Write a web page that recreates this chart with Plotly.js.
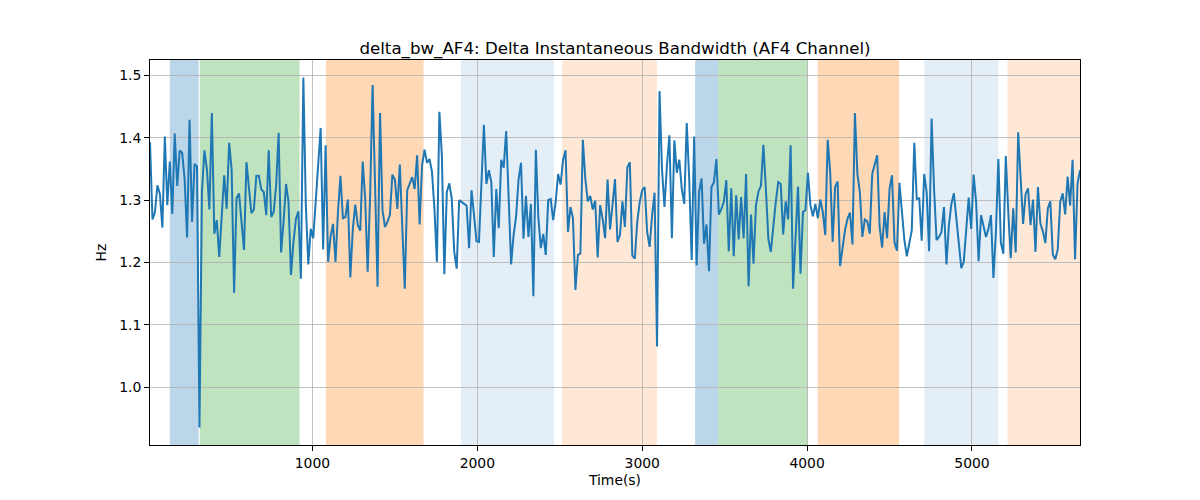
<!DOCTYPE html>
<html>
<head>
<meta charset="utf-8">
<script src="https://cdn.plot.ly/plotly-3.0.1.min.js"></script>
<style>html,body{margin:0;padding:0;background:#fff;}#chart{width:1200px;height:500px;}</style>
</head>
<body>
<div id="chart"></div>
<script>
// Time axis: first sample and step (seconds)
const timeStart = 15;
const timeStep = 15;

// delta bandwidth values (Hz)
const bwValues = [
1.393,1.269,1.281,1.324,1.310,1.256,1.402,1.292,1.362,1.278,
1.407,1.323,1.380,1.376,1.334,1.240,1.429,1.265,1.358,1.354,
0.935,1.313,1.380,1.350,1.285,1.440,1.246,1.268,1.209,1.270,
1.340,1.286,1.392,1.350,1.151,1.303,1.311,1.265,1.220,1.361,
1.321,1.279,1.285,1.339,1.339,1.317,1.313,1.276,1.380,1.273,
1.281,1.324,1.408,1.216,1.265,1.326,1.297,1.180,1.233,1.270,
1.282,1.174,1.497,
1.292,1.197,1.254,1.239,1.297,1.356,1.416,1.221,1.388,1.201,
1.241,1.262,1.201,1.281,1.339,1.271,1.273,1.301,1.176,1.254,
1.293,1.260,1.251,1.362,1.302,1.185,1.308,1.485,1.297,1.161,
1.440,1.284,1.257,1.265,1.277,1.341,1.333,1.286,1.357,1.249,
1.158,1.316,1.326,1.337,1.318,1.372,1.261,1.356,1.381,1.360,
1.366,1.346,1.286,1.201,1.442,1.372,1.181,1.313,1.327,1.302,
1.217,1.190,1.300,
1.297,1.294,1.291,1.223,1.316,1.276,1.234,1.233,1.318,1.421,
1.326,1.348,1.329,1.209,1.318,1.255,1.365,1.352,1.411,1.318,
1.197,1.244,1.273,1.333,1.360,1.238,1.307,1.241,1.294,1.146,
1.381,1.273,1.223,1.246,1.212,1.300,1.302,1.268,1.297,1.342,
1.325,1.365,1.380,1.249,1.289,1.271,1.156,1.212,1.214,1.397,
1.334,1.298,1.307,1.285,1.299,1.208,1.292,1.270,1.239,1.333,
1.253,1.293,1.334,
1.233,1.244,1.298,1.257,1.353,1.361,1.211,1.206,1.265,1.297,
1.316,1.321,1.249,1.225,1.276,1.312,1.065,1.475,1.350,1.289,
1.356,1.404,1.239,1.396,1.344,1.365,1.318,1.294,1.424,1.334,
1.204,1.402,1.195,1.313,1.335,1.230,1.261,1.186,1.321,1.329,
1.366,1.277,1.286,1.297,1.332,1.218,1.319,1.210,1.308,1.237,
1.305,1.239,1.342,1.162,1.277,1.198,1.292,1.314,1.323,1.389,
1.318,1.238,
1.217,1.260,1.297,1.329,1.326,1.245,1.298,1.269,1.388,1.158,
1.233,1.322,1.182,1.281,1.284,1.344,1.292,1.274,1.294,1.271,
1.301,1.281,1.244,1.397,1.345,1.233,1.321,1.330,1.194,1.228,
1.252,1.270,1.280,1.229,1.440,1.342,1.313,1.241,1.269,1.266,
1.246,1.342,1.356,1.372,1.257,1.224,1.281,1.239,1.318,1.340,
1.232,1.219,1.328,1.276,1.236,1.210,1.233,1.252,1.392,1.302,
1.303,1.235,1.342,
1.313,1.218,1.431,1.318,1.236,1.241,1.249,1.289,1.197,1.260,
1.294,1.311,1.268,1.228,1.191,1.201,1.249,1.304,1.254,1.341,
1.297,1.202,1.276,1.260,1.241,1.254,1.276,1.175,1.249,1.366,
1.232,1.214,1.371,1.281,1.207,1.287,1.216,1.409,1.324,1.262,
1.310,1.319,1.260,1.301,1.217,1.321,1.262,1.250,1.231,1.287,
1.298,1.213,1.205,1.221,1.297,1.311,1.277,1.338,1.291,1.365,
1.205,1.326,1.348
];

// Shaded segments: start, end, colour, opacity
const segStart = [135, 317, 1082, 1901, 2514, 3321, 3461, 4064, 4711, 5215];
const segEnd   = [310, 922, 1674, 2465, 3089, 3461, 4003, 4558, 5160, 5656];
const segColor = ['31,119,180','44,160,44','255,127,14','31,119,180','255,127,14',
                  '31,119,180','44,160,44','255,127,14','31,119,180','255,127,14'];
const segAlpha = [0.3, 0.3, 0.3, 0.12, 0.17, 0.3, 0.3, 0.3, 0.12, 0.17];

const xTicks = [1000, 2000, 3000, 4000, 5000];
const yTicks = [1.0, 1.1, 1.2, 1.3, 1.4, 1.5];

const shapes = segStart.map((s, i) => ({
  type: 'rect', xref: 'x', yref: 'paper', x0: s, x1: segEnd[i], y0: 0, y1: 1,
  fillcolor: 'rgba(' + segColor[i] + ',' + segAlpha[i] + ')',
  line: {width: 0}, layer: 'below'
}));

const trace = {
  type: 'scatter', mode: 'lines',
  x0: timeStart, dx: timeStep, y: bwValues,
  line: {color: '#1f77b4', width: 2},
  hoverinfo: 'x+y'
};

const font = {family: 'DejaVu Sans, sans-serif', size: 13.9, color: '#000'};

const layout = {
  width: 1200, height: 500,
  margin: {l: 150, r: 120, t: 60, b: 55, pad: 0},
  paper_bgcolor: '#fff', plot_bgcolor: 'rgba(0,0,0,0)',
  font: font,
  showlegend: false,
  title: {text: 'delta_bw_AF4: Delta Instantaneous Bandwidth (AF4 Channel)',
          font: {family: 'DejaVu Sans, sans-serif', size: 16.67, color: '#000'},
          x: 0.5, xref: 'paper', y: 1, yref: 'paper', yanchor: 'bottom', pad: {b: 6}},
  xaxis: {
    range: [15, 5655], tickvals: xTicks, ticktext: xTicks.map(String),
    showgrid: true, gridcolor: '#b0b0b0', gridwidth: 0.8,
    zeroline: false, showline: true, linecolor: '#000', linewidth: 1, mirror: true,
    ticks: 'outside', ticklen: 5, tickwidth: 1, tickcolor: '#000',
    tickfont: font,
    title: {text: 'Time(s)', font: font, standoff: 5}
  },
  yaxis: {
    range: [0.907, 1.525], tickvals: yTicks, ticktext: yTicks.map(v => v.toFixed(1)),
    showgrid: true, gridcolor: '#b0b0b0', gridwidth: 0.8,
    zeroline: false, showline: true, linecolor: '#000', linewidth: 1, mirror: true,
    ticks: 'outside', ticklen: 5, tickwidth: 1, tickcolor: '#000',
    tickfont: font,
    title: {text: 'Hz', font: font, standoff: 9}
  },
  shapes: shapes
};

Plotly.newPlot('chart', [trace], layout, {displayModeBar: false, staticPlot: true});
</script>
</body>
</html>
